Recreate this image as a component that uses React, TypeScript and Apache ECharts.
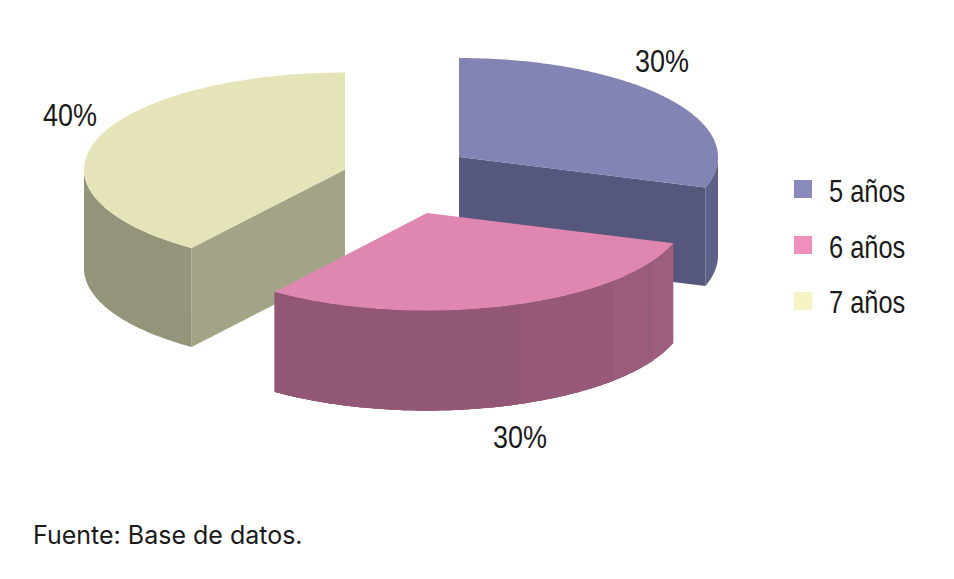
import React, { useEffect, useRef } from "react";
import * as echarts from "echarts";

const categories = ["5 años", "6 años", "7 años"];
const shares = [30, 30, 40];
const sourceNote = "Fuente: Base de datos.";

const legendColors = ["#8a8abd", "#ee90bb", "#f7f4c4"];
const topColors = ["#8383b4", "#df87b0", "#e5e4b8"];
const faceColors = ["#55577c", "#925775", "#a3a387"];
// wall shading: [angle at which the band ends, colour], walking clockwise from the top
const wallBands: [number, string][][] = [
  [[360, "#5f6088"]],
  [[119, "#9e5f7e"], [134, "#9a5c7b"], [159, "#965978"], [360, "#925775"]],
  [[360, "#94947a"]],
];
const layouts = [
  { cx: 459, cy: 157, rx: 259, ry: 99, depth: 98.5, lx: 662, ly: 61 },
  { cx: 427, cy: 213, rx: 259, ry: 97.5, depth: 100, lx: 520, ly: 437 },
  { cx: 345, cy: 169.5, rx: 261, ry: 97, depth: 99, lx: 70, ly: 115 },
];
const legendTextX = 829;
const legendTextY = [191, 247, 302];
const FONT = "'Liberation Sans', sans-serif";

const rad = (d: number) => (d * Math.PI) / 180;

function rim(l: any, from: number, to: number, dy = 0): number[][] {
  const steps = Math.max(2, Math.ceil(Math.abs(to - from)));
  const pts: number[][] = [];
  for (let i = 0; i <= steps; i++) {
    const a = rad(from + ((to - from) * i) / steps);
    pts.push([l.cx + l.rx * Math.sin(a), l.cy - l.ry * Math.cos(a) + dy]);
  }
  return pts;
}

function sliceChildren(idx: number) {
  const total = shares.reduce((a, b) => a + b, 0);
  const before = shares.slice(0, idx).reduce((a, b) => a + b, 0);
  const start = (before / total) * 360;
  const end = ((before + shares[idx]) / total) * 360;
  const l = layouts[idx];
  const children: any[] = [];
  const poly = (points: number[][], fill: string) =>
    children.push({ type: "polygon", shape: { points }, style: { fill } });

  // radial faces that turn towards the viewer
  [start, end].forEach((a, i) => {
    const s = Math.sin(rad(a));
    const visible = i === 0 ? s < -1e-6 : s > 1e-6;
    if (!visible) return;
    const [p] = rim(l, a, a + 1);
    poly([[l.cx, l.cy], p, [p[0], p[1] + l.depth], [l.cx, l.cy + l.depth]], faceColors[idx]);
  });

  // outer wall, front half of the ellipse only; each band runs on under the next
  let from = Math.max(start, 90);
  const last = Math.min(end, 270);
  wallBands[idx].forEach(([bandEnd, color]) => {
    const to = Math.min(bandEnd, last);
    if (to <= from) return;
    poly([...rim(l, from, last), ...rim(l, last, from, l.depth)], color);
    from = to;
  });

  // top
  poly([[l.cx, l.cy], ...rim(l, start, end)], topColors[idx]);

  children.push({
    type: "text",
    x: l.lx,
    y: l.ly,
    scaleX: 0.87,
    style: {
      text: `${shares[idx]}%`,
      font: `31px ${FONT}`,
      fill: "#1a1a1a",
      align: "center",
      verticalAlign: "middle",
    },
  });
  return children;
}

export default function App() {
  const ref = useRef<HTMLDivElement>(null);
  useEffect(() => {
    document.body.style.margin = "0";
    document.body.style.background = "#ffffff";
    const chart = echarts.init(ref.current!, undefined, { renderer: "svg" });
    chart.setOption({
      animation: false,
      backgroundColor: "#ffffff",
      title: {
        text: sourceNote,
        left: 33,
        top: 522,
        padding: 0,
        textStyle: { fontFamily: "Inter", fontSize: 25, fontWeight: "normal", color: "#1a1a1a" },
      },
      legend: {
        orient: "vertical",
        left: 794,
        top: 180,
        padding: 0,
        itemWidth: 18,
        itemHeight: 18,
        itemGap: 38,
        icon: "rect",
        selectedMode: false,
        data: categories,
        formatter: () => " ",
        textStyle: { fontSize: 10 },
      },
      // the legend's labels are condensed, which only a scaled text can do
      graphic: categories.map((name, i) => ({
        type: "text",
        x: legendTextX,
        y: legendTextY[i],
        scaleX: 0.82,
        style: {
          text: name,
          font: `31px ${FONT}`,
          fill: "#1a1a1a",
          verticalAlign: "middle",
        },
      })),
      // drawn back to front: the pink slice overlaps the blue one
      series: [0, 2, 1].map((idx) => ({
        type: "custom",
        name: categories[idx],
        coordinateSystem: "none",
        itemStyle: { color: legendColors[idx] },
        data: [shares[idx]],
        silent: true,
        renderItem: () => ({ type: "group", children: sliceChildren(idx) }),
      })),
    });
    return () => chart.dispose();
  }, []);
  return <div ref={ref} style={{ width: 954, height: 579 }} />;
}
